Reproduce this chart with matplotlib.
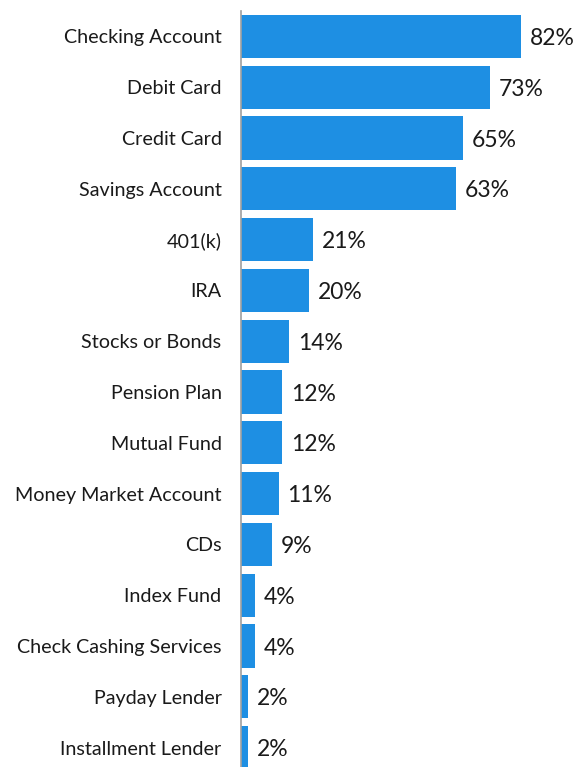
import matplotlib.pyplot as plt

categories = [
    "Checking Account",
    "Debit Card",
    "Credit Card",
    "Savings Account",
    "401(k)",
    "IRA",
    "Stocks or Bonds",
    "Pension Plan",
    "Mutual Fund",
    "Money Market Account",
    "CDs",
    "Index Fund",
    "Check Cashing Services",
    "Payday Lender",
    "Installment Lender",
]
percentages = [82, 73, 65, 63, 21, 20, 14, 12, 12, 11, 9, 4, 4, 2, 2]

BAR_COLOR = "#1e8fe3"

plt.rcParams["font.family"] = ["Lato", "DejaVu Sans"]

fig = plt.figure(figsize=(5.80, 7.67), dpi=100)
ax = fig.add_axes([241 / 580, -6 / 767, 339 / 580, 762 / 767])

y_positions = list(range(len(categories)))
ax.barh(y_positions, percentages, height=0.85, color=BAR_COLOR)

# percentage labels just past the end of each bar
for y, value in zip(y_positions, percentages):
    ax.text(value + 2.6, y + 0.04, f"{value}%", va="center", ha="left",
            fontsize=16.5, color="#1a1a1a")

ax.set_yticks(y_positions)
ax.set_yticklabels(categories, fontsize=14.2, color="#1a1a1a")
ax.set_ylim(len(categories) - 0.5, -0.5)
ax.set_xlim(0, 99.3)
ax.set_xticks([])
ax.tick_params(axis="y", length=0, pad=14)

for side in ["top", "right", "bottom"]:
    ax.spines[side].set_visible(False)
ax.spines["left"].set_color("#a0a0a0")
ax.spines["left"].set_linewidth(1.2)

fig.savefig("out.png", dpi=100)
